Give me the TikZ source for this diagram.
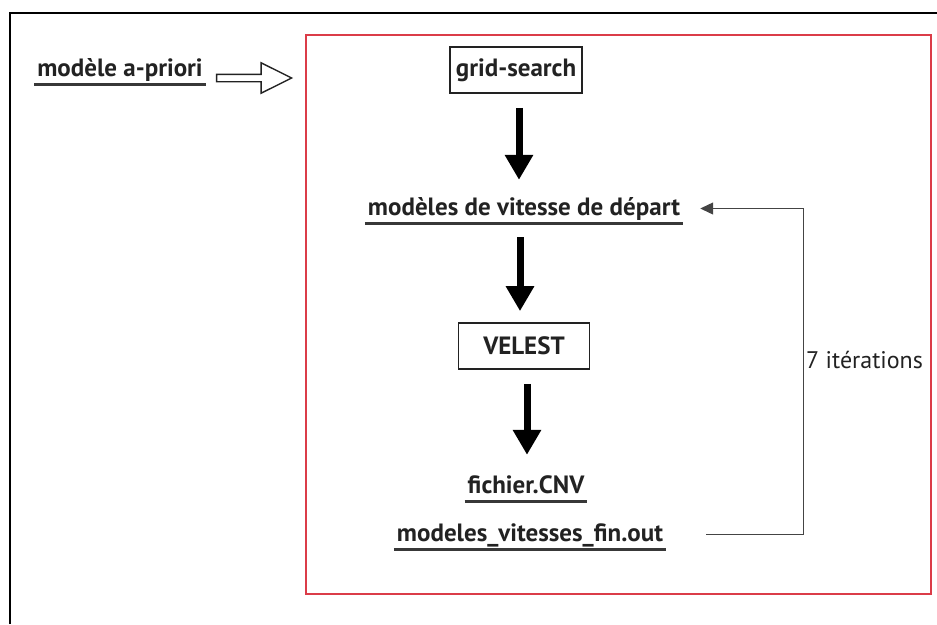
\documentclass[tikz,border=0pt]{standalone}
\usepackage{fontspec}
\setsansfont{PT Sans}
\usetikzlibrary{arrows.meta,positioning,shapes.arrows}
\definecolor{framered}{HTML}{DB3C48}
\definecolor{inkgrey}{HTML}{222222}
\definecolor{loopgrey}{HTML}{444444}
\newcommand{\flowfont}{\sffamily\fontsize{24}{29}\selectfont}
\newcommand{\boldflowfont}{\sffamily\bfseries\fontsize{25}{30}\selectfont}
\tikzset{
  ulabel/.style={font=\boldflowfont, text=inkgrey, inner xsep=3pt,
    inner ysep=3pt, text height=18pt, text depth=5pt, anchor=base},
  stepbox/.style={rectangle, draw=inkgrey, line width=1.8pt, minimum width=#1,
    minimum height=46pt, inner sep=4pt, font=\boldflowfont, text=inkgrey},
  stepbox/.default=132pt,
  uline/.style={line width=2.8pt, draw=inkgrey!90},
  bigflow/.style={-{Triangle[length=25pt,width=27pt]}, line width=7pt,
    draw=black, shorten <=14pt, shorten >=#1},
  bigflow/.default=14pt,
  feedarrow/.style={single arrow, draw=inkgrey, line width=1.4pt, fill=white,
    inner xsep=0pt, inner ysep=3pt, minimum height=75pt,
    single arrow head extend=11.5pt, single arrow tip angle=53},
  loopflow/.style={-{Triangle[length=13pt,width=12pt]}, line width=1.3pt, draw=loopgrey},
  lbl/.style={font=\flowfont, text=inkgrey, inner sep=1pt},
}

\begin{document}
\begin{tikzpicture}[x=1pt, y=-1pt]
    \useasboundingbox (0,0) rectangle (937,624);
    % frames
    \draw[line width=2pt, black] (10,624) -- (10,13) -- (937,13);
    \draw[line width=2.2pt, framered] (306,35) rectangle (931,594);

    \node[ulabel] (apriori) at (120,76) {modèle a-priori};
    \node[feedarrow, right=10pt of apriori.base east, yshift=-2pt] (feed) {};

    \node[stepbox] (grid) at (516,70) {grid-search};
    \node[ulabel] (depart) at (524,215) {modèles de vitesse de départ};
    \node[stepbox=131pt] (velest) at (524,346) {VELEST};
    \node[ulabel] (cnv) at (526,493) {fichier.CNV};
    \node[ulabel] (fin) at (530,541) {modeles\_vitesses\_fin.out};

    \foreach \n in {apriori,depart,cnv,fin}
      \draw[uline] (\n.south west) -- (\n.south east);

    \draw[bigflow] ([xshift=3pt]grid.south) -- ([xshift=3pt]grid.south |- depart.north);
    \draw[bigflow=11pt] ([xshift=-4pt]depart.south) -- ([xshift=-4pt]depart.south |- velest.north);
    \draw[bigflow=17pt] ([xshift=3pt]velest.south) -- ([xshift=3pt]velest.south |- cnv.north);

    \draw[loopflow] ([xshift=40pt]fin.east) -| ([xshift=120pt]depart.east)
      -- ([xshift=17pt]depart.east);
    \node[lbl, anchor=west] (iter) at (805,360) {7 itérations};
\end{tikzpicture}
\end{document}
